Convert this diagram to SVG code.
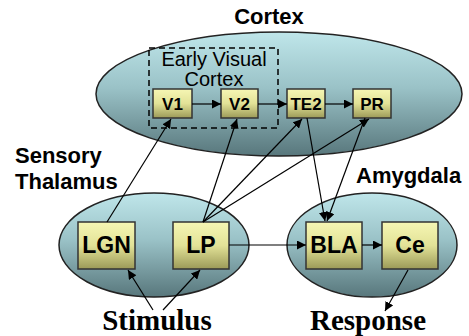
<svg xmlns="http://www.w3.org/2000/svg" width="469" height="336" viewBox="0 0 469 336">
<defs>
<linearGradient id="eg" x1="0" y1="0" x2="0" y2="1">
<stop offset="0" stop-color="#bfe6ea"/>
<stop offset="0.45" stop-color="#9ac2c7"/>
<stop offset="1" stop-color="#58777c"/>
</linearGradient>
<linearGradient id="bg" x1="0" y1="0" x2="0" y2="1">
<stop offset="0" stop-color="#f6f6b4"/>
<stop offset="0.5" stop-color="#e2e297"/>
<stop offset="1" stop-color="#9c9a58"/>
</linearGradient>
<marker id="ah" viewBox="0 0 10 10" refX="10" refY="5" markerWidth="9" markerHeight="9" markerUnits="userSpaceOnUse" orient="auto">
<path d="M0,0 L10,5 L0,10 z" fill="#000"/>
</marker>
</defs>
<style>
.reg{fill:url(#eg);stroke:#222;stroke-width:1.5}
.box{fill:url(#bg);stroke:#333;stroke-width:1.5}
.bl{font-family:"Liberation Sans",Arial,sans-serif;font-weight:bold;fill:#000;text-anchor:middle}
.lbl{font-family:"Liberation Sans",Arial,sans-serif;font-weight:bold;fill:#000;font-size:22px}
.ev{font-family:"Liberation Sans",Arial,sans-serif;font-size:20px;fill:#000;text-anchor:middle}
.ser{font-family:"Liberation Serif","Times New Roman",serif;font-weight:bold;fill:#000;text-anchor:middle;font-size:29px}
.c{stroke:#000;stroke-width:1.2;fill:none;marker-end:url(#ah)}
</style>
<g id="cortex-region">
<ellipse class="reg" cx="279" cy="94" rx="183" ry="62"/>
<text class="bl" x="269" y="24" font-size="22">Cortex</text>
</g>
<g id="early-visual-cortex">
<rect x="149" y="48" width="129" height="80" fill="none" stroke="#000" stroke-width="1.5" stroke-dasharray="6,4"/>
<text class="ev" x="214" y="66">Early Visual</text>
<text class="ev" x="214" y="86">Cortex</text>
</g>
<g id="thalamus-region">
<ellipse class="reg" cx="154" cy="245" rx="95" ry="52"/>
<text class="lbl" x="15" y="163">Sensory</text>
<text class="lbl" x="15" y="189">Thalamus</text>
</g>
<g id="amygdala-region">
<ellipse class="reg" cx="372" cy="245" rx="85" ry="52"/>
<text class="lbl" x="356" y="183">Amygdala</text>
</g>
<g id="V1"><rect class="box" x="153" y="89" width="39" height="29"/><text class="bl" x="172.5" y="110" font-size="17">V1</text></g>
<g id="V2"><rect class="box" x="221" y="89" width="37" height="29"/><text class="bl" x="239.5" y="110" font-size="17">V2</text></g>
<g id="TE2"><rect class="box" x="287" y="89" width="38" height="29"/><text class="bl" x="306" y="110" font-size="17">TE2</text></g>
<g id="PR"><rect class="box" x="353" y="89" width="38" height="29"/><text class="bl" x="372" y="110" font-size="17">PR</text></g>
<g id="LGN"><rect class="box" x="78" y="222" width="57" height="47"/><text class="bl" x="106.5" y="253" font-size="23">LGN</text></g>
<g id="LP"><rect class="box" x="173" y="222" width="56" height="47"/><text class="bl" x="201" y="253" font-size="23">LP</text></g>
<g id="BLA"><rect class="box" x="306" y="222" width="56" height="47"/><text class="bl" x="334" y="253" font-size="23">BLA</text></g>
<g id="Ce"><rect class="box" x="382" y="222" width="56" height="47"/><text class="bl" x="410" y="253" font-size="23">Ce</text></g>
<g id="stimulus"><text class="ser" x="157" y="330">Stimulus</text></g>
<g id="response"><text class="ser" x="368" y="330">Response</text></g>
<g id="connectors">
<line class="c" x1="192" y1="104" x2="221" y2="104"/>
<line class="c" x1="258" y1="104" x2="287" y2="104"/>
<line class="c" x1="325" y1="104" x2="353" y2="104"/>
<line class="c" x1="107" y1="222" x2="171" y2="119"/>
<line class="c" x1="203" y1="222" x2="237" y2="119"/>
<line class="c" x1="203" y1="222" x2="302" y2="119"/>
<line class="c" x1="203" y1="222" x2="369" y2="119"/>
<line class="c" x1="307" y1="118" x2="325" y2="221"/>
<line class="c" x1="365" y1="118" x2="327" y2="221"/>
<line class="c" x1="229" y1="245" x2="306" y2="245"/>
<line class="c" x1="362" y1="245" x2="382" y2="245"/>
<line class="c" x1="153" y1="310" x2="128" y2="270"/>
<line class="c" x1="163" y1="310" x2="200" y2="270"/>
<line class="c" x1="408" y1="270" x2="385" y2="311"/>
</g>
</svg>
